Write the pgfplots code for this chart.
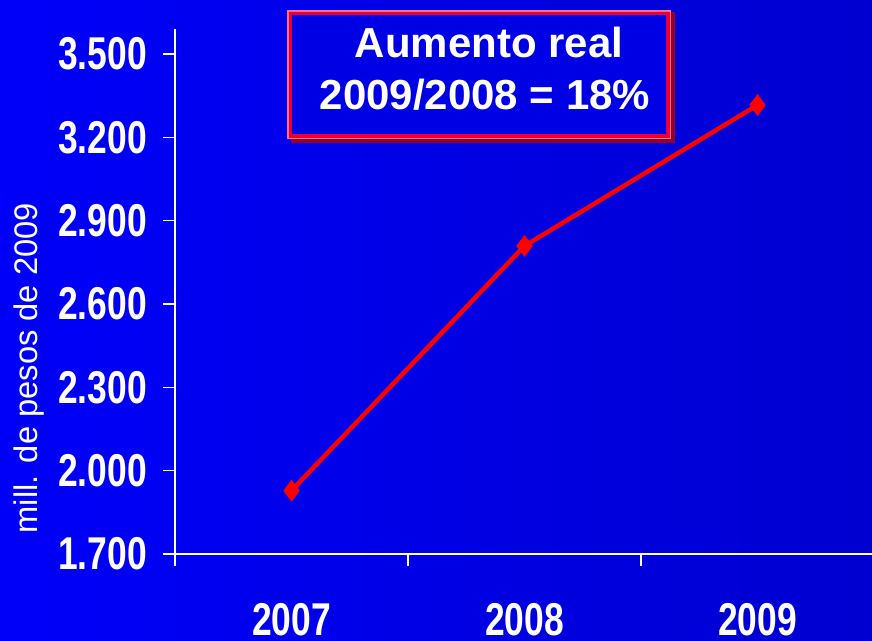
\documentclass[border=0pt]{standalone}
\usepackage{fontspec}
\setmainfont{Liberation Sans}
\newfontfamily\narrowbold[FakeStretch=0.77]{Liberation Sans}
\usepackage{pgfplots}
\pgfplotsset{compat=1.18}
\definecolor{bgLeft}{RGB}{0,0,250}
\definecolor{bgRight}{RGB}{0,0,208}
\definecolor{bgMid}{RGB}{0,0,228}
\definecolor{boxRed}{RGB}{232,0,52}
\definecolor{boxPink}{RGB}{255,110,140}
\definecolor{boxDark}{RGB}{150,0,40}
\begin{document}
\begin{tikzpicture}[x=1bp,y=1bp]
\useasboundingbox (0,0) rectangle (872,641);
\shade[left color=bgLeft, right color=bgRight] (0,0) rectangle (872,641);

\begin{axis}[
    at={(175bp,87bp)}, anchor=south west,
    scale only axis, width=697bp, height=525bp,
    xmin=-0.5, xmax=2.4914, ymin=1700, ymax=3590,
    axis x line*=bottom, axis y line*=left,
    axis line style={-, white, line width=1.5bp},
    tick align=outside,
    xtick={-0.5,0.5,1.5,2.5}, xticklabels={},
    xtick style={white, line width=1.5bp},
    extra x ticks={0,1,2}, extra x tick labels={2007,2008,2009},
    extra x tick style={major tick length=0pt,
        xticklabel style={anchor=north, inner sep=0pt, yshift=-49bp}},
    ytick={1700,2000,2300,2600,2900,3200,3500},
    yticklabels={1.700,2.000,2.300,2.600,2.900,3.200,3.500},
    ytick style={white, line width=1.5bp},
    major tick length=12bp,
    yticklabel style={anchor=east, inner sep=0pt, xshift=-16bp},
    ticklabel style={white, font=\narrowbold\bfseries\fontsize{46bp}{50bp}\selectfont},
    ylabel={mill. de pesos de 2009},
    ylabel style={at={(rel axis cs:0,0.354)}, anchor=center,
                  yshift=146bp, white, font=\fontsize{32.7bp}{36bp}\selectfont},
    clip=false,
]
\addplot[red, line width=4.5bp, mark=diamond*, mark size=10.5bp,
         mark options={solid, fill=red, draw=red, line width=0.5bp}]
    coordinates {(0,1928) (1,2809) (2,3316)};
\end{axis}

% title box
\draw[boxDark, line width=4bp] (293,500) rectangle (673,627);
\fill[bgMid] (287,503) rectangle (670,631);
\draw[boxPink, line width=2bp] (288,503) rectangle (670,630);
\draw[boxRed, line width=3.5bp] (290.5,505) rectangle (668,627.5);
\node[anchor=base, white, inner sep=0, font=\bfseries\fontsize{42bp}{50bp}\selectfont] at (489,583) {Aumento real};
\node[anchor=base, white, inner sep=0, font=\bfseries\fontsize{42bp}{50bp}\selectfont] at (485,531) {2009/2008 = 18\%};
\end{tikzpicture}
\end{document}
